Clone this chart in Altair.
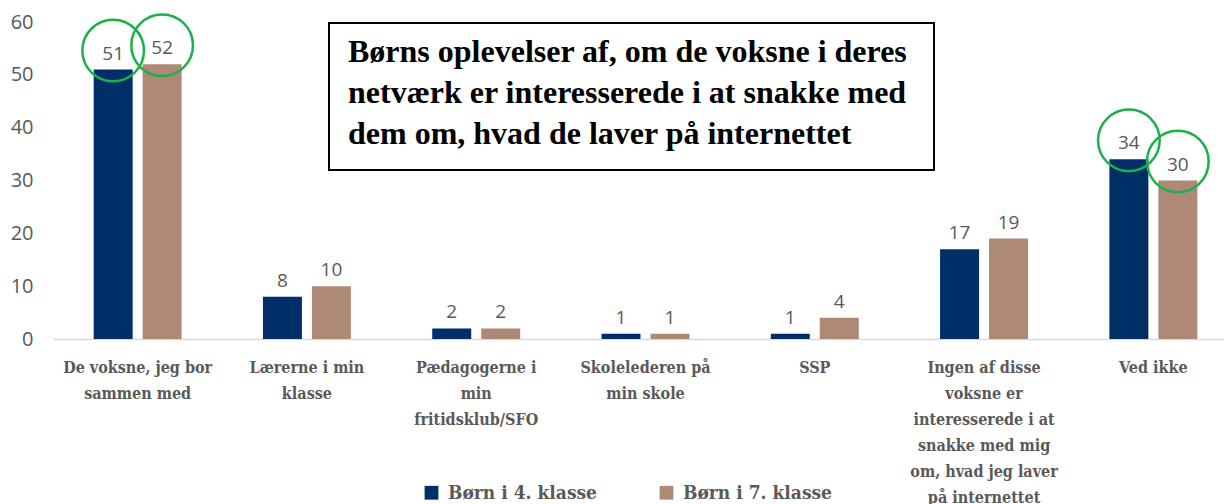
import altair as alt
import pandas as pd

categories = [
    "De voksne, jeg bor|sammen med",
    "Lærerne i min|klasse",
    "Pædagogerne i|min|fritidsklub/SFO",
    "Skolelederen på|min skole",
    "SSP",
    "Ingen af disse|voksne er|interesserede i at|snakke med mig|om, hvad jeg laver|på internettet",
    "Ved ikke",
]
series = ["Børn i 4. klasse", "Børn i 7. klasse"]
grade4 = [51, 8, 2, 1, 1, 17, 34]
grade7 = [52, 10, 2, 1, 4, 19, 30]
circled4 = [True, False, False, False, False, False, True]
circled7 = [True, False, False, False, False, False, True]
colors = ["#002e66", "#ae8a76"]
y_ticks = [0, 10, 20, 30, 40, 50, 60]
title_lines = [
    "Børns oplevelser af, om de voksne i deres",
    "netværk er interesserede i at snakke med",
    "dem om, hvad de laver på internettet",
]

rows = []
for c, a, b, ca, cb in zip(categories, grade4, grade7, circled4, circled7):
    rows.append({"kategori": c, "gruppe": series[0], "værdi": a, "cirkel": ca})
    rows.append({"kategori": c, "gruppe": series[1], "værdi": b, "cirkel": cb})
df = pd.DataFrame(rows)

slab = "'Roboto Slab', 'DejaVu Serif Condensed', 'DejaVu Serif', serif"
sans = "'Open Sans', 'Noto Sans', sans-serif"

x_enc = alt.X(
    "kategori:N",
    sort=categories,
    title=None,
    scale=alt.Scale(range=[0, 1185], paddingInner=0, paddingOuter=0),
    axis=alt.Axis(
        labelExpr="split(datum.label, '|')",
        labelAngle=0,
        labelFont=slab,
        labelFontSize=16,
        labelFontWeight="bold",
        labelColor="#595959",
        labelLineHeight=26,
        labelPadding=20,
        labelLimit=400,
        ticks=False,
        domainColor="#d9d9d9",
        domainWidth=1.5,
        grid=False,
    ),
)
xoff = alt.XOffset(
    "gruppe:N",
    sort=series,
    scale=alt.Scale(paddingInner=0.204, paddingOuter=0.83),
)
y_enc = alt.Y(
    "værdi:Q",
    title=None,
    scale=alt.Scale(domain=[0, 60], nice=False),
    axis=alt.Axis(
        values=y_ticks,
        grid=False,
        domain=False,
        ticks=False,
        labelFont=sans,
        labelFontSize=20,
        labelColor="#595959",
        labelPadding=20,
    ),
)

base = alt.Chart(df)

bars = base.mark_bar().encode(
    x=x_enc,
    xOffset=xoff,
    y=y_enc,
    color=alt.Color(
        "gruppe:N",
        sort=series,
        scale=alt.Scale(domain=series, range=colors),
        legend=alt.Legend(
            title=None,
            orient="none",
            legendX=369,
            legendY=461,
            direction="horizontal",
            symbolType="square",
            symbolSize=190,
            symbolStrokeWidth=0,
            labelFont=slab,
            labelFontSize=19,
            labelFontWeight="bold",
            labelColor="#595959",
            labelOffset=7,
            columnPadding=60,
            labelLimit=400,
        ),
    ),
)

labels = base.mark_text(
    dy=-10, baseline="alphabetic", font=sans, fontSize=19, color="#595959"
).encode(x=x_enc, xOffset=xoff, y=y_enc, text=alt.Text("værdi:Q"))

circles = base.transform_filter("datum.cirkel").mark_point(
    shape="circle", size=3800, filled=False, stroke="#1db04a", strokeWidth=2.5,
    yOffset=-19, opacity=1,
).encode(x=x_enc, xOffset=xoff, y=y_enc)

one = alt.Chart(pd.DataFrame({"k": [0]}))
box = one.mark_rect(fill="white", stroke="black", strokeWidth=2).encode(
    x=alt.value(276), x2=alt.value(881), y=alt.value(1), y2=alt.value(148)
)
title_text = one.mark_text(
    text=title_lines, align="left", baseline="alphabetic", font="'Liberation Serif', 'Times New Roman', serif",
    fontWeight="bold", fontSize=32, lineHeight=41, color="black",
).encode(x=alt.value(295), y=alt.value(40))

chart = alt.layer(bars, labels, circles, box, title_text).properties(
    width=1171,
    height=317,
    autosize=alt.AutoSizeParams(type="none"),
    padding={"left": 45, "top": 14, "right": 0, "bottom": 165},
).configure_view(stroke=None)

chart.save("out.html", embed_options={"renderer": "svg", "actions": False})
